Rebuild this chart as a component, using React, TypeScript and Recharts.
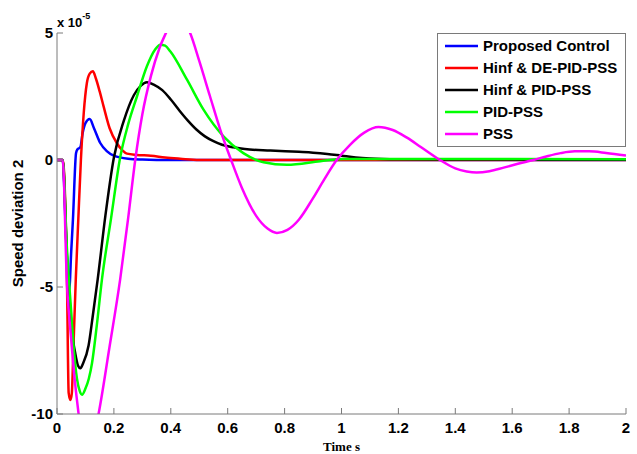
import React from 'react';
import { LineChart, Line, XAxis, YAxis, Legend } from 'recharts';

// ---- tick labels ----
const xTicks = [0, 0.2, 0.4, 0.6, 0.8, 1, 1.2, 1.4, 1.6, 1.8, 2];
const yTicks = [-10, -5, 0, 5];

// ---- series names / colours ----
const seriesNames = ['Proposed Control', 'Hinf & DE-PID-PSS', 'Hinf & PID-PSS', 'PID-PSS', 'PSS'];
const seriesColors = ['#0000ff', '#ff0000', '#000000', '#00ff00', '#ff00ff'];

// ---- Proposed Control (blue) ----
const blueT = [0, 0.02, 0.03, 0.038, 0.043, 0.05, 0.056, 0.067, 0.072, 0.082, 0.09, 0.1, 0.115, 0.13, 0.152, 0.175, 0.2, 0.25, 0.3, 0.4, 1, 2];
const blueV = [0, 0, -2.5, -4.6, -5.1, -3.6, -2.35, 0.28, 0.42, 0.5, 1.05, 1.45, 1.61, 1.25, 0.67, 0.35, 0.17, 0.05, 0.02, 0, 0, 0];

// ---- Hinf & DE-PID-PSS (red) ----
const redT = [0, 0.02, 0.035, 0.041, 0.047, 0.052, 0.058, 0.066, 0.075, 0.084, 0.094, 0.105, 0.115, 0.126, 0.137, 0.15, 0.164, 0.185, 0.21, 0.23, 0.246, 0.28, 0.33, 0.38, 0.433, 0.5, 2];
const redV = [0, 0, -4.7, -9.17, -9.45, -9.2, -7.3, -4.7, -2.3, 0, 1.85, 3.03, 3.4, 3.49, 3.2, 2.7, 2.1, 1.25, 0.67, 0.38, 0.25, 0.2, 0.17, 0.1, 0.05, 0, 0];

// ---- Hinf & PID-PSS (black) ----
const blackT = [0, 0.02, 0.035, 0.045, 0.052, 0.064, 0.074, 0.082, 0.092, 0.111, 0.125, 0.143, 0.17, 0.2, 0.235, 0.27, 0.295, 0.316, 0.34, 0.37, 0.4, 0.43, 0.46, 0.49, 0.52, 0.55, 0.58, 0.62, 0.66, 0.75, 0.85, 0.9, 0.95, 1.0, 1.05, 1.1, 1.2, 1.35, 2];
const blackV = [0, 0, -3.8, -5.6, -6.7, -7.6, -8.1, -8.2, -8.0, -7.3, -6.2, -4.7, -2.2, 0.1, 1.55, 2.55, 2.93, 3.06, 2.97, 2.75, 2.38, 1.95, 1.55, 1.2, 0.93, 0.74, 0.6, 0.5, 0.43, 0.37, 0.32, 0.29, 0.24, 0.17, 0.1, 0.06, 0.03, 0.02, 0.01];

// ---- PID-PSS (green) ----
const greenT = [0, 0.02, 0.035, 0.05, 0.058, 0.07, 0.08, 0.088, 0.1, 0.112, 0.123, 0.14, 0.158, 0.19, 0.222, 0.25, 0.281, 0.316, 0.345, 0.363, 0.38, 0.398, 0.457, 0.515, 0.585, 0.655, 0.726, 0.808, 0.925, 1.006, 1.2, 2];
const greenV = [0, 0, -3.5, -6, -7.3, -8.6, -9.1, -9.24, -9.0, -8.6, -8.0, -6.5, -4.7, -2.3, 0.1, 1.4, 2.5, 3.69, 4.35, 4.54, 4.5, 4.28, 3.16, 1.98, 0.93, 0.27, -0.09, -0.19, -0.05, 0.04, 0.04, 0.03];

// ---- PSS (magenta) ----
const magT = [0, 0.02, 0.035, 0.047, 0.06, 0.076, 0.09, 0.105, 0.12, 0.135, 0.146, 0.184, 0.222, 0.25, 0.275, 0.3, 0.33, 0.36, 0.383, 0.405, 0.425, 0.445, 0.468, 0.5, 0.538, 0.574, 0.612, 0.65, 0.7, 0.74, 0.773, 0.81, 0.85, 0.9, 0.94, 0.983, 1.03, 1.08, 1.13, 1.18, 1.23, 1.28, 1.346, 1.4, 1.44, 1.475, 1.52, 1.57, 1.62, 1.674, 1.72, 1.77, 1.82, 1.87, 1.93, 2.0];
const magV = [0, 0, -4.9, -6.7, -8.4, -10, -11.2, -11.7, -11.4, -10.6, -10, -7.4, -4.7, -2.3, 0, 1.8, 3.3, 4.4, 5.0, 5.5, 5.7, 5.5, 5.0, 3.9, 2.5, 1.19, 0, -1.1, -2.2, -2.7, -2.87, -2.75, -2.35, -1.5, -0.75, 0, 0.6, 1.08, 1.3, 1.18, 0.88, 0.5, 0, -0.33, -0.45, -0.49, -0.44, -0.3, -0.15, 0, 0.14, 0.27, 0.34, 0.34, 0.28, 0.18];

const zip = (t: number[], v: number[]) => t.map((tt, i) => ({ t: tt, v: v[i] }));
const seriesData = [zip(blueT, blueV), zip(redT, redV), zip(blackT, blackV), zip(greenT, greenV), zip(magT, magV)];

const AXIS_COLOR = '#7a7a7a';
const FONT = '"Liberation Sans", Arial, sans-serif';
const TICK_LEN = 6;

const fmt = (v: number) => String(v);

const BottomTick = (props: any) => {
  const { x, y, payload } = props;
  return (
    <g>
      <line x1={x} y1={y} x2={x} y2={y - TICK_LEN} stroke={AXIS_COLOR} strokeWidth={1} />
      <text x={x} y={y + 19} textAnchor="middle" fontFamily={FONT} fontWeight="bold" fontSize={15} fill="#000">
        {fmt(payload.value)}
      </text>
    </g>
  );
};

const TopTick = (props: any) => {
  const { x, y } = props;
  return <line x1={x} y1={y} x2={x} y2={y + TICK_LEN} stroke={AXIS_COLOR} strokeWidth={1} />;
};

const LeftTick = (props: any) => {
  const { x, y, payload } = props;
  return (
    <g>
      <line x1={x} y1={y} x2={x + TICK_LEN} y2={y} stroke={AXIS_COLOR} strokeWidth={1} />
      <text x={x - 4} y={y} dy="0.36em" textAnchor="end" fontFamily={FONT} fontWeight="bold" fontSize={15} fill="#000">
        {fmt(payload.value)}
      </text>
    </g>
  );
};

const RightTick = (props: any) => {
  const { x, y } = props;
  return <line x1={x} y1={y} x2={x - TICK_LEN} y2={y} stroke={AXIS_COLOR} strokeWidth={1} />;
};

const YLabel = (props: any) => {
  const vb = props.viewBox || { x: 0, y: 33, width: 57, height: 381 };
  const cx = vb.x + 18;
  const cy = vb.y + vb.height / 2;
  return (
    <text x={cx} y={cy} transform={`rotate(-90, ${cx}, ${cy})`} textAnchor="middle" dy="0.36em"
      fontFamily={FONT} fontWeight="bold" fontSize={15} fill="#000">
      Speed deviation 2
    </text>
  );
};

const XLabel = (props: any) => {
  const vb = props.viewBox || { x: 57, y: 414, width: 569, height: 40 };
  return (
    <text x={vb.x + vb.width / 2} y={vb.y + 37} textAnchor="middle"
      fontFamily='"Liberation Serif", "Times New Roman", serif' fontWeight="bold" fontSize={13} fill="#000">
      Time s
    </text>
  );
};

const LegendBox = () => (
  <div style={{ width: 187, height: 112, border: `1px solid ${AXIS_COLOR}`, background: '#fff', position: 'relative', boxSizing: 'content-box' }}>
    {seriesNames.map((name, i) => (
      <div key={name} style={{ position: 'absolute', left: 0, top: 1 + i * 22, height: 22, display: 'flex', alignItems: 'center' }}>
        <svg width={45} height={22} style={{ display: 'block' }}>
          <line x1={7} y1={11} x2={40} y2={11} stroke={seriesColors[i]} strokeWidth={2.5} />
        </svg>
        <span style={{ fontFamily: FONT, fontWeight: 'bold', fontSize: 15, color: '#000', whiteSpace: 'nowrap', lineHeight: '22px' }}>
          {name}
        </span>
      </div>
    ))}
  </div>
);

export default function App() {
  return (
    <div style={{ position: 'relative', width: 637, height: 454, background: '#fff' }}>
      <style>{`body{margin:0;background:#fff;}`}</style>
      <LineChart width={637} height={454} margin={{ top: 33, right: 11, bottom: 0, left: 0 }}>
        <XAxis
          xAxisId={0}
          dataKey="t"
          type="number"
          domain={[0, 2]}
          ticks={xTicks}
          interval={0}
          allowDataOverflow
          height={40}
          tickSize={0}
          tickMargin={0}
          tickLine={false}
          axisLine={{ stroke: AXIS_COLOR, strokeWidth: 1 }}
          tick={<BottomTick />}
          label={<XLabel />}
        />
        <XAxis
          xAxisId="top"
          orientation="top"
          dataKey="t"
          type="number"
          domain={[0, 2]}
          ticks={xTicks}
          interval={0}
          allowDataOverflow
          height={0}
          tickSize={0}
          tickMargin={0}
          tickLine={false}
          axisLine={{ stroke: AXIS_COLOR, strokeWidth: 1 }}
          tick={<TopTick />}
        />
        <YAxis
          yAxisId={0}
          type="number"
          domain={[-10, 5]}
          ticks={yTicks}
          interval={0}
          allowDataOverflow
          width={57}
          tickSize={0}
          tickMargin={0}
          tickLine={false}
          axisLine={{ stroke: AXIS_COLOR, strokeWidth: 1 }}
          tick={<LeftTick />}
          label={<YLabel />}
        />
        <YAxis
          yAxisId="right"
          orientation="right"
          type="number"
          domain={[-10, 5]}
          ticks={yTicks}
          interval={0}
          allowDataOverflow
          width={0}
          tickSize={0}
          tickMargin={0}
          tickLine={false}
          axisLine={{ stroke: AXIS_COLOR, strokeWidth: 1 }}
          tick={<RightTick />}
        />
        {seriesData.map((d, i) => (
          <Line
            key={seriesNames[i]}
            data={d}
            dataKey="v"
            name={seriesNames[i]}
            type="monotone"
            stroke={seriesColors[i]}
            strokeWidth={2.5}
            dot={false}
            activeDot={false}
            isAnimationActive={false}
            xAxisId={0}
            yAxisId={0}
          />
        ))}
        <Legend
          layout="vertical"
          align="center"
          verticalAlign="middle"
          wrapperStyle={{ top: 33, left: 437, width: 189, height: 114 }}
          content={<LegendBox />}
        />
      </LineChart>
      <div style={{ position: 'absolute', left: 57, top: 15, fontFamily: FONT, fontWeight: 'bold', fontSize: 13, color: '#000', whiteSpace: 'nowrap', lineHeight: '15px' }}>
        x 10<sup style={{ fontSize: 9, verticalAlign: 'top', position: 'relative', top: -6 }}>-5</sup>
      </div>
    </div>
  );
}
